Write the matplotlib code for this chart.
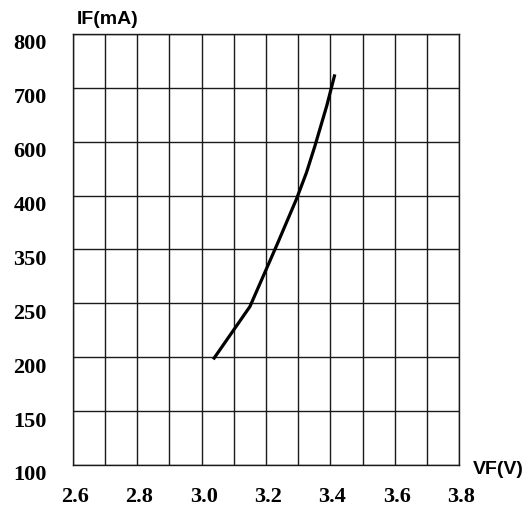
import numpy as np
import matplotlib
matplotlib.use('Agg')
import matplotlib.pyplot as plt
from matplotlib.transforms import ScaledTranslation

# y axis: uneven tick values, equally spaced on the chart
if_ticks = [100, 150, 200, 250, 350, 400, 600, 700, 800]
vf_ticks = [2.6, 2.8, 3.0, 3.2, 3.4, 3.6, 3.8]

# curve
vf = [3.036, 3.150, 3.235, 3.295, 3.326, 3.352, 3.389, 3.414]
if_ma = [198, 247, 355, 397, 486, 584, 667, 725]

idx = np.arange(len(if_ticks))
def fwd(y):
    return np.interp(y, if_ticks, idx)
def inv(i):
    return np.interp(i, idx, if_ticks)

fig = plt.figure(figsize=(5.32, 5.06), dpi=100)
ax = fig.add_axes([0.1372, 0.0791, 0.7256, 0.8518])
ax.set_yscale('function', functions=(fwd, inv))

ax.plot(vf, if_ma, color='black', lw=2.3, solid_capstyle='butt')

ax.set_xlim(2.6, 3.8)
ax.set_ylim(100, 800)
ax.set_xticks(vf_ticks)
ax.set_xticklabels(['%.1f' % v for v in vf_ticks])
ax.set_xticks(np.arange(2.7, 3.8, 0.2), minor=True)
ax.set_yticks(if_ticks)
ax.set_yticklabels([str(v) for v in if_ticks])
ax.yaxis.set_minor_locator(matplotlib.ticker.NullLocator())

ax.grid(True, which='both', color='#1a1a1a', lw=1.0)
ax.tick_params(which='both', length=0)
ax.tick_params(axis='x', pad=15)
ax.tick_params(axis='y', pad=19)
for s in ax.spines.values():
    s.set_color('#1a1a1a')
    s.set_linewidth(1.0)

for lab in ax.get_xticklabels():
    lab.set_fontfamily('Liberation Serif')
    lab.set_fontweight('bold')
    lab.set_fontsize(16)
    lab.set_transform(lab.get_transform() + ScaledTranslation(2/100, 0, fig.dpi_scale_trans))
for lab in ax.get_yticklabels():
    lab.set_fontfamily('Liberation Serif')
    lab.set_fontweight('bold')
    lab.set_fontsize(16)
    lab.set_transform(lab.get_transform() + ScaledTranslation(0, -7/100, fig.dpi_scale_trans))

fig.text(77/532, 1 - 20/506, 'IF(mA)', family='Liberation Sans', weight='bold',
         fontsize=14, ha='left', va='center')
fig.text(473/532, 1 - 470/506, 'VF(V)', family='Liberation Sans', weight='bold',
         fontsize=14, ha='left', va='center')

fig.savefig('out.png', dpi=100)
